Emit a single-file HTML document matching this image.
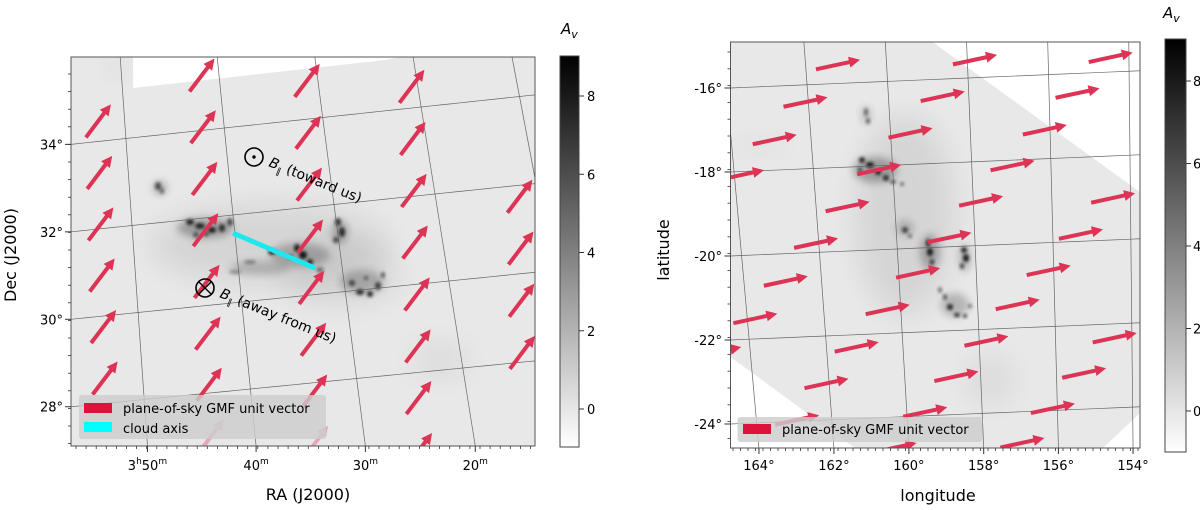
<!DOCTYPE html>
<html><head><meta charset="utf-8">
<style>
html,body{margin:0;padding:0;background:#fff;width:1200px;height:510px;overflow:hidden;}
svg{display:block;font-family:"DejaVu Sans","Liberation Sans",sans-serif;}
</style></head>
<body>
<svg id="fig" width="1200" height="510" viewBox="0 0 1200 510" xmlns="http://www.w3.org/2000/svg">
<defs>
  <clipPath id="clipL"><rect x="71" y="57" width="464" height="389"/></clipPath>
  <clipPath id="clipR"><rect x="730.5" y="42" width="409.5" height="406"/></clipPath>
  <filter id="blurS" x="-50%" y="-50%" width="200%" height="200%"><feGaussianBlur stdDeviation="1.6"/></filter>
  <filter id="blurM" x="-50%" y="-50%" width="200%" height="200%"><feGaussianBlur stdDeviation="4"/></filter>
  <filter id="blurL" x="-50%" y="-50%" width="200%" height="200%"><feGaussianBlur stdDeviation="14"/></filter>
  <linearGradient id="cbGrad" x1="0" y1="1" x2="0" y2="0">
    <stop offset="0" stop-color="#ffffff"/><stop offset="1" stop-color="#000000"/>
  </linearGradient>
</defs>

<!-- LEFT PANEL -->
<g id="leftPanel">
  <g clip-path="url(#clipL)">
    <rect x="71" y="57" width="464" height="389" fill="#e8e8e8"/>
    <polygon points="133,57 133,88 385,60 400,57" fill="#ffffff"/>
    <g id="leftCloud"></g>
    <g id="leftGrid"></g>
    <g id="leftArrows"></g>
    <g id="leftAxisLine"></g>
  </g>
  <g>
    <circle cx="254" cy="157" r="9" fill="none" stroke="#000" stroke-width="1.6"/>
    <circle cx="254" cy="157" r="1.7" fill="#000"/>
    <text transform="translate(268,166) rotate(22)" font-size="14" fill="#000"><tspan font-style="italic">B</tspan><tspan font-size="9" dy="4">∥</tspan><tspan dy="-4"> (toward us)</tspan></text>
  </g>
  <g>
    <circle cx="205" cy="288" r="9" fill="none" stroke="#000" stroke-width="1.6"/>
    <path d="M198.6,281.6 L211.4,294.4 M211.4,281.6 L198.6,294.4" stroke="#000" stroke-width="1.4"/>
    <text transform="translate(219,297) rotate(22)" font-size="14" fill="#000"><tspan font-style="italic">B</tspan><tspan font-size="9" dy="4">∥</tspan><tspan dy="-4"> (away from us)</tspan></text>
  </g>
  <g>
    <rect x="79" y="395" width="247" height="44" rx="3" fill="rgba(205,205,205,0.82)"/>
    <rect x="84" y="403" width="28" height="10" fill="#dc143c"/>
    <text x="123" y="413" font-size="13" fill="#000">plane-of-sky GMF unit vector</text>
    <rect x="84" y="422" width="28" height="10" fill="#00ffff"/>
    <text x="123" y="433" font-size="13" fill="#000">cloud axis</text>
  </g>
  <rect x="71" y="57" width="464" height="389" fill="none" stroke="#555" stroke-width="1"/>
  <g id="leftTicks"></g>
  <text transform="translate(16,255) rotate(-90)" text-anchor="middle" font-size="16">Dec (J2000)</text>
  <text x="308" y="500" text-anchor="middle" font-size="16">RA (J2000)</text>
  <rect x="560" y="56" width="19" height="391" fill="url(#cbGrad)" stroke="#444" stroke-width="1"/>
  <g id="leftCbTicks"></g>
  <text x="561" y="34" font-size="15"><tspan font-style="italic">A</tspan><tspan font-style="italic" font-size="11" dy="4">v</tspan></text>
</g>

<!-- RIGHT PANEL -->
<g id="rightPanel">
  <g clip-path="url(#clipR)">
    <rect x="730.5" y="42" width="409.5" height="406" fill="#ffffff"/>
    <polygon points="730.5,42 932.5,42 1140,192 1140,413 1103,448 855,448 730.5,357" fill="#e8e8e8"/>
    <g id="rightCloud"></g>
    <g id="rightGrid"></g>
    <g id="rightArrows"></g>
  </g>
  <g>
    <rect x="737.5" y="417" width="245" height="25" rx="3" fill="rgba(205,205,205,0.82)"/>
    <rect x="743" y="424" width="28" height="10" fill="#dc143c"/>
    <text x="782" y="434" font-size="13" fill="#000">plane-of-sky GMF unit vector</text>
  </g>
  <rect x="730.5" y="42" width="409.5" height="406" fill="none" stroke="#555" stroke-width="1"/>
  <g id="rightTicks"></g>
  <text transform="translate(669,250) rotate(-90)" text-anchor="middle" font-size="16">latitude</text>
  <text x="938" y="501" text-anchor="middle" font-size="16">longitude</text>
  <rect x="1165" y="39" width="21" height="413" fill="url(#cbGrad)" stroke="#444" stroke-width="1"/>
  <g id="rightCbTicks"></g>
  <text x="1163" y="18" font-size="15"><tspan font-style="italic">A</tspan><tspan font-style="italic" font-size="11" dy="4">v</tspan></text>
</g>
</svg>

<script>
// ---------- DATA ----------
const leftArrowRA = [52.67,52.86,53.05,53.23,53.39,53.54,
  41.74,42.10,42.43,42.80,43.14,43.48,43.80,44.02,
  31.08,31.62,32.15,32.67,33.16,33.56,34.04,34.51,
  20.59,21.29,21.98,22.63,23.19,23.84,24.48,25.10,
  11.79,12.60,13.42,14.23];
const leftArrowDec = [34.47,33.29,32.11,30.94,29.76,28.58,
  35.26,34.08,32.90,31.73,30.55,29.37,28.20,27.02,
  34.88,33.70,32.52,31.34,30.17,28.99,27.81,26.64,
  34.49,33.31,32.13,30.96,29.78,28.60,27.43,26.25,
  31.75,30.58,29.40,28.22];
const leftArrowOpacity = [1,1,1,1,1,1, 1,1,1,1,1,1,1,0.35, 1,1,1,1,1,1,1,0.35, 1,1,1,1,1,1,1,1, 1,1,1,1];
const leftDecTicks = [28,30,32,34];
const leftDecLabels = ["28°","30°","32°","34°"];
const leftRATicks = [50,40,30,20,10];
const leftRALabels = [["3","h","50","m"],["","","40","m"],["","","30","m"],["","","20","m"],["","","10","m"]];
const cloudAxisRA = [40.18,32.62];
const cloudAxisDec = [31.59,30.60];
const colorbarTicks = [0,2,4,6,8];

const rightArrowLon = [161.20,157.81,154.45, 162.07,158.65,155.29, 162.91,159.50,156.13,
  163.81,160.34,156.97, 161.20,157.80,154.44, 162.07,158.65,155.28,
  162.92,159.50,156.13, 163.79,160.34,156.96, 164.81,161.21,157.81,154.45,
  162.07,158.64,155.27, 162.92,159.51,156.12, 160.38,156.96];
const rightArrowLat = [-15.55,-15.57,-15.65, -16.41,-16.41,-16.47, -17.27,-17.25,-17.31,
  -18.08,-18.09,-18.13, -18.94,-18.94,-19.00, -19.78,-19.78,-19.83,
  -20.65,-20.59,-20.66, -21.51,-21.43,-21.44, -22.27,-22.29,-22.28,-22.33,
  -23.13,-23.09,-23.14, -23.97,-23.91,-23.95, -24.73,-24.74];
const rightLatTicks = [-16,-18,-20,-22,-24];
const rightLatLabels = ["-16°","-18°","-20°","-22°","-24°"];
const rightLonTicks = [164,162,160,158,156,154];
const rightLonLabels = ["164°","162°","160°","158°","156°","154°"];

// ---------- AXIS FUNCTIONS ----------
function leftMap(ra, dec){
  const a = 40 - ra, b = dec - 32;
  return [233 + a*10.1 + b*(-4.35 - 0.13*a), 215 - a*1.05 - b*43.5];
}
function rightMap(lon, lat){
  const u = 160 - lon;
  const k = -(0.058 - u*0.0079)*42;
  const x = 908.5 + u*37.4 + (lat + 24.6)*k;
  const y = 256 + (-20 - lat)*42 - 0.042*(x - 730);
  return [x, y];
}
const leftCb = v => 409 - (v - 0)*(409 - 96)/8;
const rightCb = v => 411 - (v - 0)*(411 - 81)/8;

const NS = "http://www.w3.org/2000/svg";
function mk(tag, attrs, parent){
  const e = document.createElementNS(NS, tag);
  for (const k in attrs) e.setAttribute(k, attrs[k]);
  parent.appendChild(e);
  return e;
}

function drawArrow(parent, cx, cy, vx, vy, op, name){
  const len = Math.hypot(vx, vy), ux = vx/len, uy = vy/len, px = -uy, py = ux;
  const tx = cx - vx/2, ty = cy - vy/2, hx = cx + vx/2, hy = cy + vy/2;
  const hl = 11, hw = 5.5, sw = 2;
  const bx = hx - ux*hl, by = hy - uy*hl;
  const g = mk('g', {opacity: op}, parent);
  
  
  const pts = [
    [tx+px*sw, ty+py*sw],[bx+px*sw, by+py*sw],[bx+px*hw, by+py*hw],[hx,hy],
    [bx-px*hw, by-py*hw],[bx-px*sw, by-py*sw],[tx-px*sw, ty-py*sw]
  ].map(p => p[0].toFixed(1)+','+p[1].toFixed(1)).join(' ');
  mk('polygon', {points: pts, fill: '#dd3355'}, g);
}

// ---------- CLOUDS (image texture) ----------
function blobs(parent, list, filter){
  list.forEach(b => {
    const e = mk('ellipse', {cx:b[0], cy:b[1], rx:b[2], ry:b[3], fill:'#000', opacity:b[4], filter:filter}, parent);
    
    
  });
}
const lc = document.getElementById('leftCloud');
blobs(lc, [[270,245,120,40,0.08],[340,275,60,30,0.07],[440,360,30,18,0.05],[118,68,10,8,0.08]], 'url(#blurL)');
blobs(lc, [[205,228,28,10,0.28],[300,255,30,12,0.22],[362,282,22,12,0.22],[260,268,30,7,0.18],[160,188,7,7,0.25],[340,232,8,12,0.25]], 'url(#blurM)');
blobs(lc, [[158,186,3,4,0.6],[162,191,2,3,0.5],
  [190,222,4,3,0.8],[200,226,5,3,0.75],[212,230,4,3,0.8],[222,228,3,4,0.7],[230,222,3,4,0.6],[206,234,3,2,0.6],[196,235,3,3,0.5],
  [272,252,4,3,0.75],[297,248,3,4,0.8],[303,255,4,4,0.85],[310,262,3,3,0.8],[290,257,3,2,0.6],
  [338,222,3,4,0.7],[342,232,3,5,0.75],[336,240,3,3,0.6],
  [352,283,3,3,0.6],[360,292,4,3,0.75],[370,294,3,3,0.8],[378,286,3,4,0.65],[383,275,2,3,0.6],[366,278,2,2,0.5],
  [250,262,6,2,0.35],[235,272,6,2,0.3],[320,270,4,3,0.4]], 'url(#blurS)');
const rc = document.getElementById('rightCloud');
blobs(rc, [[905,215,50,100,0.08],[760,145,30,8,0.04],[990,380,25,25,0.05]], 'url(#blurL)');
blobs(rc, [[875,170,22,13,0.28],[930,252,10,18,0.25],[965,258,6,14,0.22],[955,305,14,12,0.22],[866,115,5,9,0.18],[905,228,9,8,0.18]], 'url(#blurM)');
blobs(rc, [[866,112,2,4,0.5],[868,121,2,3,0.55],
  [862,160,3,3,0.8],[870,165,4,3,0.85],[878,172,3,3,0.8],[886,178,3,3,0.75],[893,182,3,2,0.6],[860,170,2,3,0.6],[902,184,2,2,0.5],
  [905,230,3,3,0.65],[910,236,2,2,0.5],
  [928,243,2,4,0.8],[930,252,3,4,0.85],[932,262,2,3,0.7],
  [964,250,3,3,0.8],[966,258,3,4,0.85],[962,266,2,3,0.7],
  [945,297,2,3,0.6],[950,307,3,3,0.8],[957,315,3,2,0.8],[965,316,2,2,0.7],[940,290,2,3,0.5],[970,306,2,2,0.5]], 'url(#blurS)');

// ---------- LEFT GRID & TICKS ----------
(function(){
  const grid = document.getElementById('leftGrid');
  const ticks = document.getElementById('leftTicks');
  [26,28,30,32,34,36].forEach(d => {
    const pts = [];
    for (let r = 70; r >= -5; r -= 1) pts.push(leftMap(r, d));
    const e = mk('polyline', {points: pts.map(p=>p.join(',')).join(' '), fill:'none', stroke:'#666', 'stroke-width':0.7}, grid);
    
    
  });
  [60,50,40,30,20,10,0].forEach(r => {
    const pts = [];
    for (let d = 24; d <= 38; d += 0.5) pts.push(leftMap(r, d));
    const e = mk('polyline', {points: pts.map(p=>p.join(',')).join(' '), fill:'none', stroke:'#666', 'stroke-width':0.7}, grid);
    
    
  });
  leftDecTicks.forEach((d, i) => {
    let y = null;
    for (let r = 70; r > 0; r -= 0.05){
      const p1 = leftMap(r, d), p2 = leftMap(r-0.05, d);
      if (p1[0] <= 71 && p2[0] > 71){ y = p1[1] + (p2[1]-p1[1])*(71-p1[0])/(p2[0]-p1[0]); break; }
    }
    const t = mk('line', {x1:65, x2:71, y1:y, y2:y, stroke:'#333', 'stroke-width':1}, ticks);
    
    
    const l = mk('text', {x:63, y:y+5, 'text-anchor':'end', 'font-size':13}, ticks);
    
    
    l.textContent = leftDecLabels[i];
  });
  leftRATicks.forEach((r, i) => {
    let x = null;
    for (let d = 24; d < 38; d += 0.01){
      const p1 = leftMap(r, d), p2 = leftMap(r, d+0.01);
      if (p1[1] >= 446 && p2[1] < 446){ x = p1[0] + (p2[0]-p1[0])*(p1[1]-446)/(p1[1]-p2[1]); break; }
    }
    if (x === null || x < 71 || x > 535) return;
    const t = mk('line', {x1:x, x2:x, y1:446, y2:452, stroke:'#333', 'stroke-width':1}, ticks);
    
    
    const l = mk('text', {x:x, y:470, 'text-anchor':'middle', 'font-size':13}, ticks);
    
    
    const p = leftRALabels[i];
    let h = '';
    if (p[0]) h += p[0] + '<tspan font-size="9" dy="-6">' + p[1] + '</tspan><tspan dy="6">' + p[2] + '</tspan>';
    else h += p[2];
    h += '<tspan font-size="9" dy="-6">' + p[3] + '</tspan>';
    l.innerHTML = h;
  });
  for (let y = 74; y < 446; y += 17.6){
    const t = mk('line', {x1:68, x2:71, y1:y, y2:y, stroke:'#333', 'stroke-width':0.8}, ticks);
    
    
  }
  for (let x = 76; x < 535; x += 10.1){
    const t = mk('line', {x1:x, x2:x, y1:446, y2:449, stroke:'#333', 'stroke-width':0.8}, ticks);
    
    
  }
})();

(function(){
  const g = document.getElementById('leftArrows');
  leftArrowRA.forEach((r, i) => {
    const p = leftMap(r, leftArrowDec[i]);
    drawArrow(g, p[0], p[1], 25, -33, leftArrowOpacity[i], 'gmf-vector-left');
  });
  const a = leftMap(cloudAxisRA[0], cloudAxisDec[0]), b = leftMap(cloudAxisRA[1], cloudAxisDec[1]);
  const l = mk('line', {x1:a[0], y1:a[1], x2:b[0], y2:b[1], stroke:'#1ee8ee', 'stroke-width':5}, document.getElementById('leftAxisLine'));
  
  
})();

// ---------- RIGHT GRID & TICKS ----------
(function(){
  const grid = document.getElementById('rightGrid');
  const ticks = document.getElementById('rightTicks');
  [-14,-16,-18,-20,-22,-24,-26].forEach(la => {
    const pts = [];
    for (let lo = 168; lo >= 150; lo -= 0.5) pts.push(rightMap(lo, la));
    const e = mk('polyline', {points: pts.map(p=>p.join(',')).join(' '), fill:'none', stroke:'#666', 'stroke-width':0.7}, grid);
    
    
  });
  [166,164,162,160,158,156,154,152].forEach(lo => {
    const pts = [];
    for (let la = -27; la <= -13; la += 0.5) pts.push(rightMap(lo, la));
    const e = mk('polyline', {points: pts.map(p=>p.join(',')).join(' '), fill:'none', stroke:'#666', 'stroke-width':0.7}, grid);
    
    
  });
  rightLatTicks.forEach((la, i) => {
    let y = null;
    for (let lo = 168; lo > 150; lo -= 0.01){
      const p1 = rightMap(lo, la), p2 = rightMap(lo-0.01, la);
      if (p1[0] <= 730.5 && p2[0] > 730.5){ y = p1[1]; break; }
    }
    const t = mk('line', {x1:724.5, x2:730.5, y1:y, y2:y, stroke:'#333', 'stroke-width':1}, ticks);
    
    
    const l = mk('text', {x:722, y:y+5, 'text-anchor':'end', 'font-size':13}, ticks);
    
    
    l.textContent = rightLatLabels[i];
  });
  rightLonTicks.forEach((lo, i) => {
    let x = null;
    for (let la = -27; la < -13; la += 0.01){
      const p1 = rightMap(lo, la), p2 = rightMap(lo, la+0.01);
      if (p1[1] >= 448 && p2[1] < 448){ x = p1[0]; break; }
    }
    const t = mk('line', {x1:x, x2:x, y1:448, y2:454, stroke:'#333', 'stroke-width':1}, ticks);
    
    
    const l = mk('text', {x:x, y:470, 'text-anchor':'middle', 'font-size':13}, ticks);
    
    
    l.textContent = rightLonLabels[i];
  });
  for (let y = 52; y < 448; y += 16.8){
    const t = mk('line', {x1:727.5, x2:730.5, y1:y, y2:y, stroke:'#333', 'stroke-width':0.8}, ticks);
    
    
  }
  for (let x = 733; x < 1140; x += 7.5){
    const t = mk('line', {x1:x, x2:x, y1:448, y2:451, stroke:'#333', 'stroke-width':0.8}, ticks);
    
    
  }
})();

(function(){
  const g = document.getElementById('rightArrows');
  rightArrowLon.forEach((lo, i) => {
    const p = rightMap(lo, rightArrowLat[i]);
    drawArrow(g, p[0], p[1], 44, -9.5, 1, 'gmf-vector-right');
  });
})();

// ---------- COLORBAR TICKS ----------
(function(){
  const gl = document.getElementById('leftCbTicks');
  const gr = document.getElementById('rightCbTicks');
  colorbarTicks.forEach(v => {
    const y1 = leftCb(v);
    const t1 = mk('line', {x1:579, x2:584, y1:y1, y2:y1, stroke:'#333', 'stroke-width':1}, gl);
    
    
    const l1 = mk('text', {x:587, y:y1+5, 'font-size':13}, gl);
    
    
    l1.textContent = v;
    const y2 = rightCb(v);
    const t2 = mk('line', {x1:1186, x2:1191, y1:y2, y2:y2, stroke:'#333', 'stroke-width':1}, gr);
    
    
    const l2 = mk('text', {x:1193, y:y2+5, 'font-size':13}, gr);
    
    
    l2.textContent = v;
  });
})();
</script>
</body></html>
